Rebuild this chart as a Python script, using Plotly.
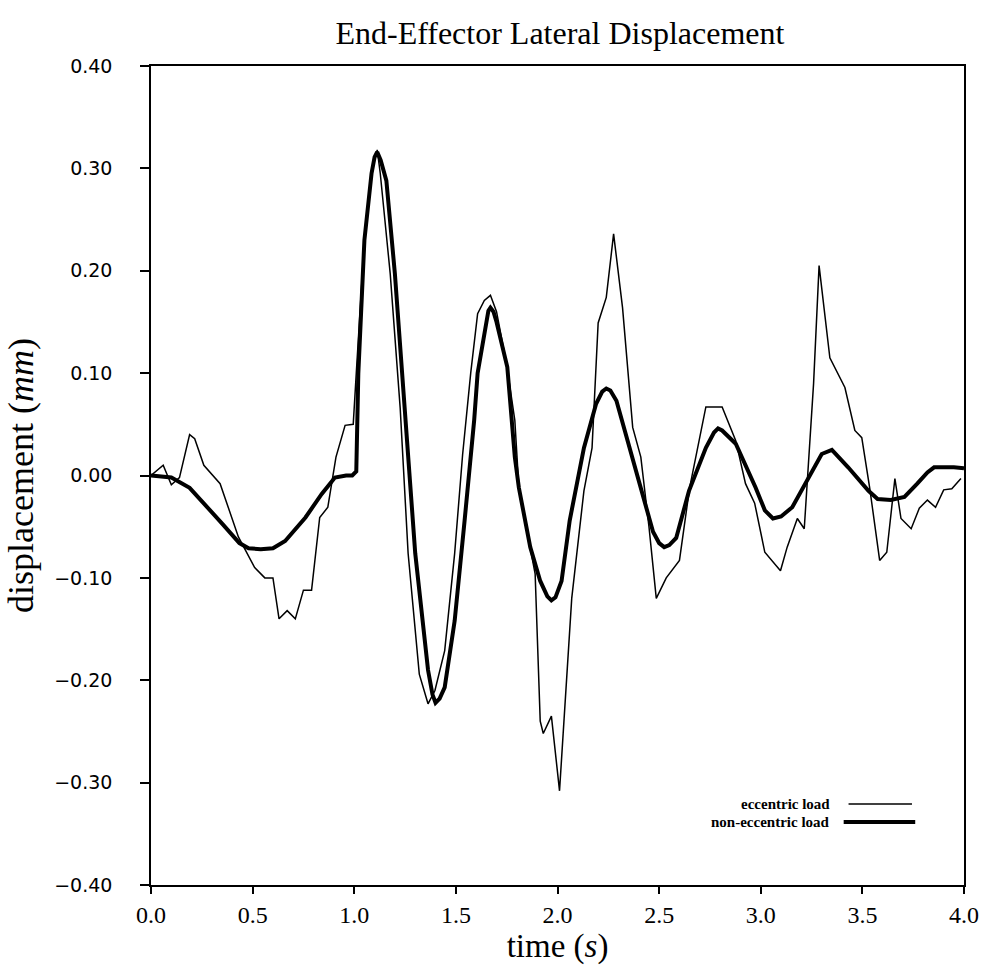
import plotly.graph_objects as go

# time samples and lateral displacement (mm) for the eccentric-load run
t_ecc = [0.00, 0.06, 0.10, 0.14, 0.19, 0.215, 0.26, 0.34, 0.43, 0.51, 0.56, 0.60,
         0.63, 0.67, 0.71, 0.75, 0.79, 0.83, 0.87, 0.91, 0.955, 0.995, 1.01, 1.05,
         1.09, 1.113, 1.128, 1.177, 1.226, 1.265, 1.32, 1.363, 1.397, 1.445, 1.494,
         1.533, 1.573, 1.607, 1.64, 1.67, 1.70, 1.75, 1.79, 1.81, 1.85, 1.89, 1.915,
         1.93, 1.97, 2.01, 2.07, 2.13, 2.17, 2.20, 2.24, 2.276, 2.32, 2.37, 2.41,
         2.45, 2.486, 2.535, 2.60, 2.65, 2.73, 2.81, 2.877, 2.925, 2.97, 3.02, 3.097,
         3.13, 3.18, 3.214, 3.26, 3.287, 3.34, 3.414, 3.463, 3.497, 3.536, 3.585,
         3.62, 3.66, 3.69, 3.74, 3.78, 3.82, 3.86, 3.90, 3.94, 3.985]
d_ecc = [0.000, 0.010, -0.009, -0.002, 0.040, 0.036, 0.010, -0.008, -0.060, -0.090,
         -0.100, -0.100, -0.140, -0.132, -0.140, -0.112, -0.112, -0.041, -0.031,
         0.018, 0.049, 0.050, 0.100, 0.230, 0.300, 0.318, 0.295, 0.197, 0.066,
         -0.076, -0.194, -0.223, -0.210, -0.171, -0.076, 0.020, 0.100, 0.158, 0.171,
         0.176, 0.160, 0.108, 0.054, -0.012, -0.054, -0.096, -0.240, -0.252, -0.235,
         -0.308, -0.120, -0.015, 0.027, 0.149, 0.174, 0.236, 0.164, 0.047, 0.018,
         -0.050, -0.120, -0.100, -0.083, -0.012, 0.067, 0.067, 0.034, -0.008, -0.027,
         -0.075, -0.093, -0.070, -0.042, -0.052, 0.090, 0.205, 0.115, 0.086, 0.044,
         0.037, -0.012, -0.083, -0.075, -0.003, -0.042, -0.052, -0.032, -0.024,
         -0.031, -0.014, -0.013, -0.003]

# time samples and lateral displacement (mm) for the non-eccentric-load run
t_non = [0.00, 0.10, 0.19, 0.27, 0.35, 0.435, 0.48, 0.54, 0.60, 0.66, 0.76, 0.84,
         0.905, 0.96, 0.99, 1.01, 1.02, 1.05, 1.085, 1.10, 1.113, 1.13, 1.158, 1.20,
         1.25, 1.30, 1.363, 1.385, 1.40, 1.42, 1.445, 1.494, 1.543, 1.59, 1.607,
         1.646, 1.66, 1.67, 1.685, 1.70, 1.753, 1.79, 1.81, 1.866, 1.915, 1.95, 1.97,
         1.99, 2.02, 2.06, 2.13, 2.19, 2.22, 2.24, 2.26, 2.29, 2.354, 2.42, 2.47,
         2.50, 2.525, 2.55, 2.584, 2.647, 2.73, 2.77, 2.79, 2.81, 2.877, 2.975, 3.02,
         3.06, 3.10, 3.155, 3.235, 3.30, 3.35, 3.43, 3.53, 3.575, 3.64, 3.707, 3.77,
         3.82, 3.853, 3.95, 4.00]
d_non = [0.000, -0.002, -0.012, -0.029, -0.047, -0.066, -0.071, -0.072, -0.071,
         -0.064, -0.041, -0.018, -0.002, 0.000, 0.000, 0.004, 0.100, 0.230, 0.295,
         0.311, 0.316, 0.308, 0.288, 0.197, 0.060, -0.076, -0.190, -0.214, -0.222,
         -0.218, -0.207, -0.142, -0.044, 0.054, 0.100, 0.149, 0.161, 0.164, 0.160,
         0.150, 0.106, 0.018, -0.012, -0.070, -0.103, -0.118, -0.122, -0.119, -0.103,
         -0.044, 0.027, 0.070, 0.082, 0.085, 0.083, 0.073, 0.027, -0.021, -0.055,
         -0.066, -0.070, -0.068, -0.061, -0.015, 0.027, 0.042, 0.046, 0.044, 0.031,
         -0.012, -0.034, -0.042, -0.040, -0.031, -0.002, 0.021, 0.025, 0.008, -0.015,
         -0.023, -0.024, -0.021, -0.008, 0.003, 0.008, 0.008, 0.007]

x_ticks = [0.0, 0.5, 1.0, 1.5, 2.0, 2.5, 3.0, 3.5, 4.0]
y_ticks = [0.40, 0.30, 0.20, 0.10, 0.00, -0.10, -0.20, -0.30, -0.40]
series_names = ["eccentric load", "non-eccentric load"]

SERIF = "Liberation Serif, Times New Roman, serif"
SANS = "DejaVu Sans, Arial, sans-serif"

fig = go.Figure()
fig.add_trace(go.Scatter(x=t_ecc, y=d_ecc, mode="lines", name=series_names[0],
                         line=dict(color="black", width=1.5)))
fig.add_trace(go.Scatter(x=t_non, y=d_non, mode="lines", name=series_names[1],
                         line=dict(color="black", width=4)))

# legend drawn as right-aligned labels with line samples after them
legend_rows = [(series_names[0], 0.0989, 1.5, 0.858, 0.936),
               (series_names[1], 0.0769, 4.0, 0.852, 0.940)]
for name, yp, w, x0, x1 in legend_rows:
    fig.add_annotation(x=0.838, y=yp, xref="paper", yref="paper", text=f"<b>{name}</b>",
                       showarrow=False, xanchor="right", yanchor="middle",
                       font=dict(family=SERIF, size=15, color="black"))
    fig.add_shape(type="line", xref="paper", yref="paper", x0=x0, x1=x1, y0=yp, y1=yp,
                  line=dict(color="black", width=w))

fig.update_layout(
    width=991, height=971,
    margin=dict(l=151, r=17, t=66, b=86),
    paper_bgcolor="white", plot_bgcolor="white",
    showlegend=False,
    title=dict(text="End-Effector Lateral Displacement", x=0.565, xanchor="center",
               y=0.966, yanchor="middle",
               font=dict(family=SERIF, size=32, color="black")),
)
fig.update_xaxes(
    range=[0, 4], tickvals=x_ticks, ticktext=[f"{v:.1f}" for v in x_ticks],
    showgrid=False, zeroline=False, showline=True, mirror=True,
    linecolor="black", linewidth=1.5, ticks="outside", ticklen=7, tickwidth=1.5,
    tickcolor="black", tickfont=dict(family=SERIF, size=24, color="black"),
    title=dict(text="time (<i>s</i>)", standoff=4,
               font=dict(family=SERIF, size=33, color="black")),
)
fig.update_yaxes(
    range=[-0.4, 0.4], tickvals=y_ticks,
    ticktext=[f"{v:.2f}".replace("-", "\u2212") for v in y_ticks],
    showgrid=False, zeroline=False, showline=True, mirror=True,
    linecolor="black", linewidth=1.5, ticks="outside", ticklen=9, tickwidth=1.5,
    tickcolor="black", ticklabelstandoff=24,
    tickfont=dict(family=SANS, size=19, color="black"),
    title=dict(text="displacement (<i>mm</i>)", standoff=10,
               font=dict(family=SERIF, size=36, color="black")),
)

fig.write_html("out.html")
